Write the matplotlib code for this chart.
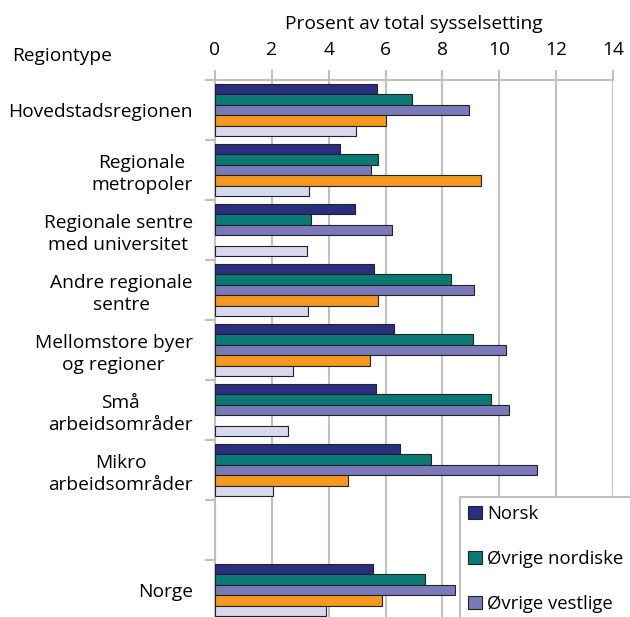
import numpy as np
import matplotlib
matplotlib.use("Agg")
import matplotlib.pyplot as plt
from matplotlib.patches import Patch

plt.rcParams['font.family'] = ['Open Sans', 'DejaVu Sans']

categories = ['Hovedstadsregionen', 'Regionale\nmetropoler', 'Regionale sentre\nmed universitet',
              'Andre regionale\nsentre', 'Mellomstore byer\nog regioner', 'Små\narbeidsområder',
              'Mikro\narbeidsområder', '', 'Norge']

# percent of total employment (nan = no bar)
norsk     = [5.69, 4.39, 4.94, 5.59, 6.31, 5.68, 6.50, np.nan, 5.56]
nordiske  = [6.94, 5.74, 3.38, 8.30, 9.07, 9.71, 7.59, np.nan, 7.37]
vestlige  = [8.93, 5.50, 6.24, 9.12, 10.25, 10.33, 11.34, np.nan, 8.43]
orange    = [6.00, 9.36, np.nan, 5.75, 5.46, np.nan, 4.69, np.nan, 5.89]
lys       = [4.95, 3.30, 3.23, 3.27, 2.76, 2.58, 2.05, np.nan, 3.92]

series = [norsk, nordiske, vestlige, orange, lys]
colors = ['#2a2e80', '#0b7a76', '#7a7aba', '#f4991f', '#d9d8ec']
labels = ['Norsk', 'Øvrige nordiske', 'Øvrige vestlige']

fs = 13.8

fig = plt.figure(figsize=(6.3, 6.17), dpi=100)
ax = fig.add_axes([215/630, -3/617, (613-215)/630, (80-3)/617 * 0 + (617 - 80 + 3)/617])

y = np.arange(len(categories))
h = 0.175
for i, (vals, c) in enumerate(zip(series, colors)):
    ax.barh(y + (i - 2) * h, vals, height=h, color=c, edgecolor='#222222',
            linewidth=0.8, zorder=3)

ax.set_xlim(0, 14)
ax.set_ylim(8.5, -0.5)
ax.xaxis.tick_top()
ax.xaxis.set_label_position('top')
ax.set_xticks(np.arange(0, 15, 2))
ax.set_xlabel('Prosent av total sysselsetting', fontsize=fs, labelpad=9)
ax.tick_params(axis='x', which='major', length=7, width=1.5, color='#c0c0c0',
               labelsize=fs, pad=8)
ax.grid(axis='x', color='#c0c0c0', linewidth=1.5, zorder=0)

ax.set_yticks(np.arange(-0.5, 9, 1))
ax.set_yticklabels([])
ax.tick_params(axis='y', which='major', length=7, width=1.5, color='#c0c0c0')
ax.set_yticks(y, minor=True)
ax.set_yticklabels(categories, minor=True, fontsize=fs, ma='center', linespacing=1.3)
ax.tick_params(axis='y', which='minor', length=0, pad=16)

for s in ['right', 'bottom']:
    ax.spines[s].set_visible(False)
for s in ['left', 'top']:
    ax.spines[s].set_color('#c0c0c0')
    ax.spines[s].set_linewidth(1.5)

fig.text(12/630, 1 - 56/617, 'Regiontype', fontsize=fs, va='center', ha='left')

handles = [Patch(facecolor=c, edgecolor='#222222', linewidth=0.8) for c in colors[:3]]
leg = fig.legend(handles, labels, loc='upper left', bbox_to_anchor=(460/630, 1 - 497/617),
                 borderaxespad=0, fontsize=13.3, fancybox=False, framealpha=1,
                 edgecolor='#c0c0c0', labelspacing=1.45, handlelength=0.72,
                 handleheight=0.72, handletextpad=0.3, borderpad=0.45)
leg.get_frame().set_linewidth(1.5)

fig.savefig('out.png', dpi=100)
